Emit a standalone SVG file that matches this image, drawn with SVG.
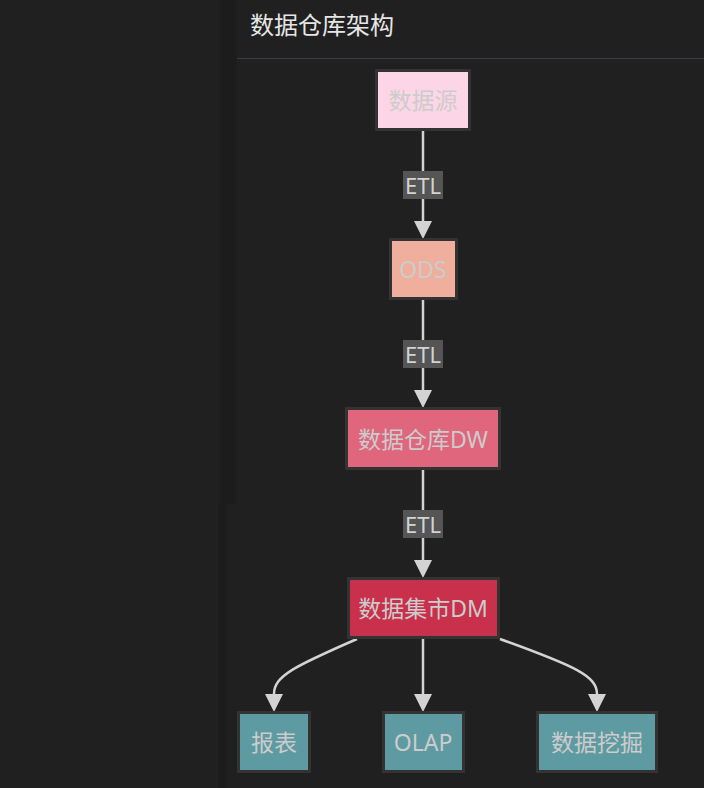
<svg xmlns="http://www.w3.org/2000/svg" width="704" height="788" viewBox="0 0 704 788">
<defs>
<style>
.node rect{stroke:#333333;stroke-width:3}
.node text{font-family:"Noto Sans","Noto Sans CJK SC",sans-serif;font-size:23px;fill:#cccccc;text-anchor:middle;dominant-baseline:central}
.edge{fill:none;stroke:#d3d3d3;stroke-width:2.5}
.lbl rect{fill:#555555}
.lbl text{font-family:"Noto Sans","Noto Sans CJK SC",sans-serif;font-size:22px;fill:#d3d3d3;text-anchor:middle;dominant-baseline:central}
</style>
</defs>
<rect width="704" height="788" fill="#202020"/>
<rect x="219" y="0" width="18" height="504" fill="#1c1c1c"/>
<rect x="218" y="504" width="9" height="284" fill="#1c1c1c"/>
<line x1="237" y1="58.5" x2="704" y2="58.5" stroke="#3d3a48" stroke-width="1"/>
<text x="250" y="34" font-family="Noto Sans CJK SC, sans-serif" font-size="24" fill="#e6e6e6">数据仓库架构</text>
<g id="connectors">
<path class="edge" d="M423,131 V221"/>
<path d="M414,221 L432,221 L423,239 z" fill="#d3d3d3"/>
<path class="edge" d="M423,300 V390"/>
<path d="M414,390 L432,390 L423,408 z" fill="#d3d3d3"/>
<path class="edge" d="M423,470 V560"/>
<path d="M414,560 L432,560 L423,578 z" fill="#d3d3d3"/>
<path class="edge" d="M423,639 V694"/>
<path d="M414,694 L432,694 L423,712 z" fill="#d3d3d3"/>
<path class="edge" d="M357,639 C295,666 274,676 274,694"/>
<path d="M265,694 L283,694 L274,712 z" fill="#d3d3d3"/>
<path class="edge" d="M500,639 C575,666 597,676 597,694"/>
<path d="M588,694 L606,694 L597,712 z" fill="#d3d3d3"/>
<g class="lbl"><rect x="403" y="171" width="40" height="28"/><text x="423" y="185">ETL</text></g>
<g class="lbl"><rect x="403" y="340" width="40" height="28"/><text x="423" y="354">ETL</text></g>
<g class="lbl"><rect x="403" y="510" width="40" height="28"/><text x="423" y="524">ETL</text></g>
</g>
<g id="n-src" class="node"><rect x="376.5" y="70.5" width="93" height="59" fill="#fcd6e6"/><text x="423" y="100">数据源</text></g>
<g id="n-ods" class="node"><rect x="390.5" y="239.5" width="66" height="59" fill="#f0ae9c"/><text x="423" y="269">ODS</text></g>
<g id="n-dw" class="node"><rect x="346.5" y="408.5" width="153" height="60" fill="#e0667e"/><text x="423" y="439">数据仓库DW</text></g>
<g id="n-dm" class="node"><rect x="348.5" y="578.5" width="150" height="59" fill="#c9304b"/><text x="423" y="608">数据集市DM</text></g>
<g id="n-rep" class="node"><rect x="238.5" y="712.5" width="71" height="59" fill="#5e9aa1"/><text x="274" y="742">报表</text></g>
<g id="n-olap" class="node"><rect x="383.5" y="712.5" width="80" height="59" fill="#5e9aa1"/><text x="423" y="742">OLAP</text></g>
<g id="n-mine" class="node"><rect x="537.5" y="712.5" width="119" height="59" fill="#5e9aa1"/><text x="597" y="742">数据挖掘</text></g>
</svg>
